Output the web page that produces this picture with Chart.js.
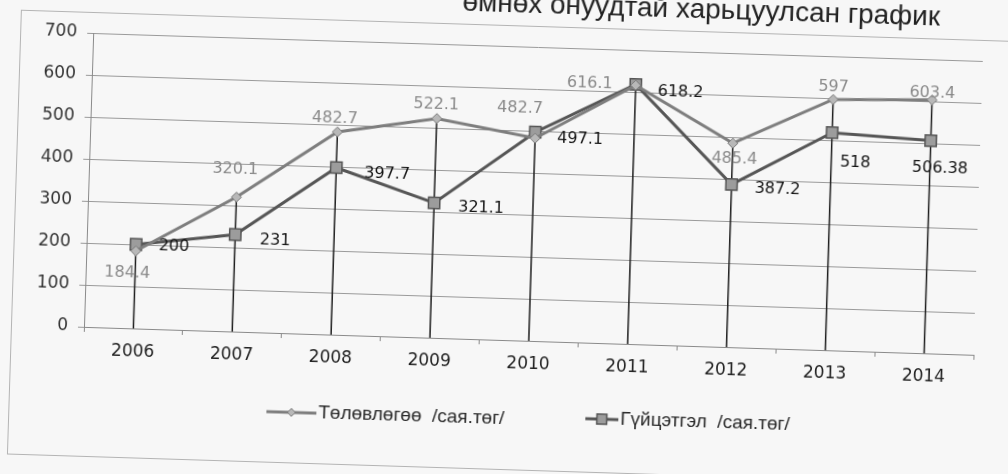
<!DOCTYPE html>
<html>
<head>
<meta charset="utf-8">
<script src="https://cdn.jsdelivr.net/npm/chart.js@4.4.0/dist/chart.umd.min.js"></script>
<style>
  html, body { margin: 0; padding: 0; width: 1008px; height: 474px; overflow: hidden; background: #f7f7f7; }
  /* the reference is a slightly tilted scan, so the whole chart is turned a little */
  #wrap { position: absolute; left: -20px; top: -30px; width: 1048px; height: 534px;
          transform-origin: 524px 267px; transform: rotate(1.8deg); }
</style>
</head>
<body>
<div id="wrap"><canvas id="chart" width="1048" height="534"></canvas></div>
<script>
// Data
const years = ["2006", "2007", "2008", "2009", "2010", "2011", "2012", "2013", "2014"];
const planValues = [184.4, 320.1, 482.7, 522.1, 482.7, 616.1, 485.4, 597, 603.4];
const actualValues = [200, 231, 397.7, 321.1, 497.1, 618.2, 387.2, 518, 506.38];
const planLabel = "Төлөвлөгөө  /сая.төг/";
const actualLabel = "Гүйцэтгэл  /сая.төг/";
const titleText = "өмнөх онуудтай харьцуулсан график";

// Where each value label sits relative to its point (px)
const planLabelOffsets = [[-8, 22], [-2, -28], [-3, -13], [-1, -14], [-16, -29], [-46, 0], [2, 16], [0, -12], [0, -7]];
const actualLabelOffsets = [[38, 1], [40, 5], [51, 5], [47, 4], [45, 6], [45, 6], [46, 3], [24, 29], [10, 28]];

const BG = "#f7f7f7";
const numFont = "DejaVu Sans";
const textFont = "Liberation Sans";

// Background, outer frame and the (cut off) title
const framePlugin = {
  id: "frame",
  beforeDraw(chart) {
    const ctx = chart.ctx;
    ctx.save();
    ctx.fillStyle = BG;
    ctx.fillRect(0, 0, chart.width, chart.height);
    ctx.strokeStyle = "#b4b4b4";
    ctx.lineWidth = 1;
    ctx.strokeRect(34.5, 55.5, 1040, 444);
    ctx.fillStyle = "#222";
    ctx.font = "28px '" + textFont + "'";
    ctx.textAlign = "right";
    ctx.textBaseline = "alphabetic";
    ctx.fillText(titleText, 953, 42);
    ctx.restore();
  },
};

// Vertical drop lines from the higher point down to the axis
const dropLinesPlugin = {
  id: "dropLines",
  beforeDatasetsDraw(chart) {
    const ctx = chart.ctx;
    const bottom = chart.chartArea.bottom;
    const m0 = chart.getDatasetMeta(0).data;
    const m1 = chart.getDatasetMeta(1).data;
    ctx.save();
    ctx.strokeStyle = "#1e1e1e";
    ctx.lineWidth = 1.5;
    m0.forEach((pt, i) => {
      const top = Math.min(pt.y, m1[i].y);
      ctx.beginPath();
      ctx.moveTo(pt.x, top);
      ctx.lineTo(pt.x, bottom);
      ctx.stroke();
    });
    ctx.restore();
  },
};

// Value labels next to the points
const valueLabelsPlugin = {
  id: "valueLabels",
  afterDatasetsDraw(chart) {
    const ctx = chart.ctx;
    const setups = [
      { values: planValues, offsets: planLabelOffsets, color: "#8a8a8a" },
      { values: actualValues, offsets: actualLabelOffsets, color: "#141414" },
    ];
    ctx.save();
    ctx.font = "16px '" + numFont + "'";
    ctx.textAlign = "center";
    ctx.textBaseline = "middle";
    setups.forEach((s, d) => {
      chart.getDatasetMeta(d).data.forEach((pt, i) => {
        ctx.fillStyle = s.color;
        ctx.fillText(String(s.values[i]), pt.x + s.offsets[i][0], pt.y + s.offsets[i][1]);
      });
    });
    ctx.restore();
  },
};

// Legend under the chart, drawn by hand so it can sit off-centre like the original
const legendPlugin = {
  id: "customLegend",
  afterDraw(chart) {
    const ctx = chart.ctx;
    const items = [
      { ds: chart.data.datasets[0], x: 292, len: 50, y: 449 },
      { ds: chart.data.datasets[1], x: 611, len: 33, y: 446 },
    ];
    ctx.save();
    items.forEach((it) => {
      ctx.strokeStyle = it.ds.borderColor;
      ctx.lineWidth = it.ds.borderWidth;
      ctx.beginPath();
      ctx.moveTo(it.x, it.y);
      ctx.lineTo(it.x + it.len, it.y);
      ctx.stroke();
      ctx.fillStyle = it.ds.pointBackgroundColor;
      ctx.strokeStyle = it.ds.pointBorderColor;
      ctx.lineWidth = it.ds.pointBorderWidth;
      Chart.helpers.drawPoint(ctx, {
        pointStyle: it.ds.pointStyle,
        radius: it.ds.pointRadius - 1,
        rotation: 0,
        borderWidth: it.ds.pointBorderWidth,
      }, it.x + it.len / 2, it.y);
      ctx.fillStyle = "#2a2a2a";
      ctx.font = "19px '" + textFont + "'";
      ctx.textAlign = "left";
      ctx.textBaseline = "middle";
      ctx.fillText(it.ds.label, it.x + it.len + 2, it.y);
    });
    ctx.restore();
  },
};

const ctx = document.getElementById("chart").getContext("2d");
new Chart(ctx, {
  type: "line",
  data: {
    labels: years,
    datasets: [
      {
        label: planLabel,
        data: planValues,
        borderColor: "#7e7e7e",
        borderWidth: 3,
        pointStyle: "rectRot",
        pointRadius: 5,
        pointBackgroundColor: "#b8b8b8",
        pointBorderColor: "#7a7a7a",
        pointBorderWidth: 1,
        tension: 0,
      },
      {
        label: actualLabel,
        data: actualValues,
        borderColor: "#565656",
        borderWidth: 3,
        pointStyle: "rect",
        pointRadius: 8,
        pointBackgroundColor: "#9c9c9c",
        pointBorderColor: "#555",
        pointBorderWidth: 1.5,
        tension: 0,
      },
    ],
  },
  options: {
    responsive: false,
    animation: false,
    devicePixelRatio: 1,
    layout: { padding: { left: 30, top: 76, right: 51, bottom: 100 } },
    plugins: {
      legend: { display: false },
      title: { display: false },
      tooltip: { enabled: false },
    },
    scales: {
      x: {
        offset: true,
        grid: { offset: true, drawOnChartArea: false, drawTicks: true, tickLength: 5, color: "#8a8a8a" },
        border: { color: "#8a8a8a", width: 1 },
        ticks: { color: "#222", padding: 8, font: { family: numFont, size: 17 } },
        afterFit(scale) { scale.height = 64; },
      },
      y: {
        min: 0,
        max: 700,
        ticks: { stepSize: 100, color: "#333", padding: 10, font: { family: numFont, size: 17 } },
        grid: { color: "#9a9a9a", lineWidth: 1, tickLength: 6 },
        border: { color: "#8a8a8a", width: 1 },
        afterFit(scale) { scale.width = 77; },
      },
    },
  },
  plugins: [framePlugin, dropLinesPlugin, valueLabelsPlugin, legendPlugin],
});
</script>
</body>
</html>
